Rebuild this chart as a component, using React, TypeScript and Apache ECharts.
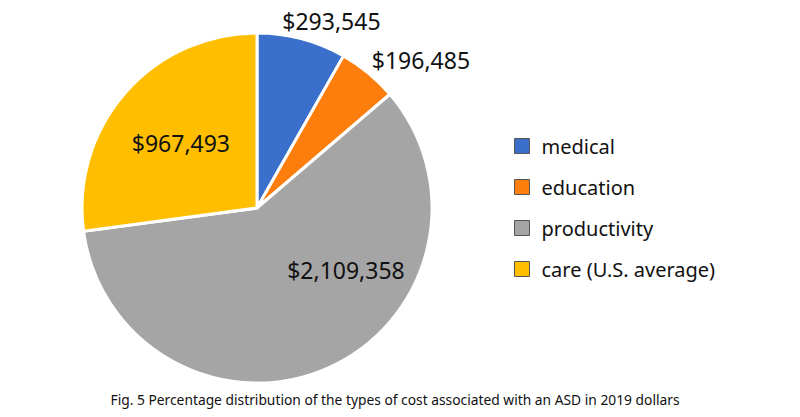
import React, { useEffect, useRef } from "react";
import * as echarts from "echarts";

const categories = ["medical", "education", "productivity", "care (U.S. average)"];
const values = [293545, 196485, 2109358, 967493];
const valueLabels = ["$293,545", "$196,485", "$2,109,358", "$967,493"];
const colors = ["#3a70cb", "#fd7e0c", "#a5a5a5", "#ffbf00"];
const caption = "Fig. 5 Percentage distribution of the types of cost associated with an ASD in 2019 dollars";

const FONT = "'Noto Sans', 'Open Sans', sans-serif";

export default function App() {
  const ref = useRef<HTMLDivElement>(null);
  useEffect(() => {
    document.body.style.margin = "0";
    if (!ref.current) return;
    const chart = echarts.init(ref.current, null, { renderer: "svg" });
    const labelCfg: any[] = [
      { position: "outside", offset: [-27, -8] },
      { position: "outside", offset: [-8, -5] },
      { position: "inside", offset: [52, -21] },
      { position: "inside", offset: [-8, -5] },
    ];
    chart.setOption({
      animation: false,
      textStyle: { fontFamily: FONT },
      title: {
        text: caption,
        left: 390,
        textAlign: "center",
        bottom: 6,
        textStyle: { fontSize: 13.8, fontWeight: "normal", color: "#111", fontFamily: FONT },
      },
      legend: {
        orient: "vertical",
        left: 509,
        top: 131,
        itemWidth: 15,
        itemHeight: 15,
        itemGap: 21,
        icon: "rect",
        itemStyle: { borderColor: "#555", borderWidth: 1 },
        textStyle: { fontSize: 20, color: "#111", fontFamily: FONT, padding: [0, 0, 0, 7] },
        data: categories,
      },
      series: [
        {
          type: "pie",
          center: [257, 208],
          radius: [0, 175],
          startAngle: 90,
          clockwise: true,
          label: { fontSize: 23, color: "#111", fontFamily: FONT, formatter: (p: any) => valueLabels[p.dataIndex] },
          labelLine: { show: false, length: 10, length2: 0 },
          itemStyle: { borderColor: "#fff", borderWidth: 3 },
          data: categories.map((c, i) => ({
            name: c,
            value: values[i],
            itemStyle: { color: colors[i], borderColor: "#fff", borderWidth: 3 },
            label: labelCfg[i],
          })),
        },
      ],
    });
    return () => chart.dispose();
  }, []);
  return <div ref={ref} style={{ width: 800, height: 417 }} />;
}
